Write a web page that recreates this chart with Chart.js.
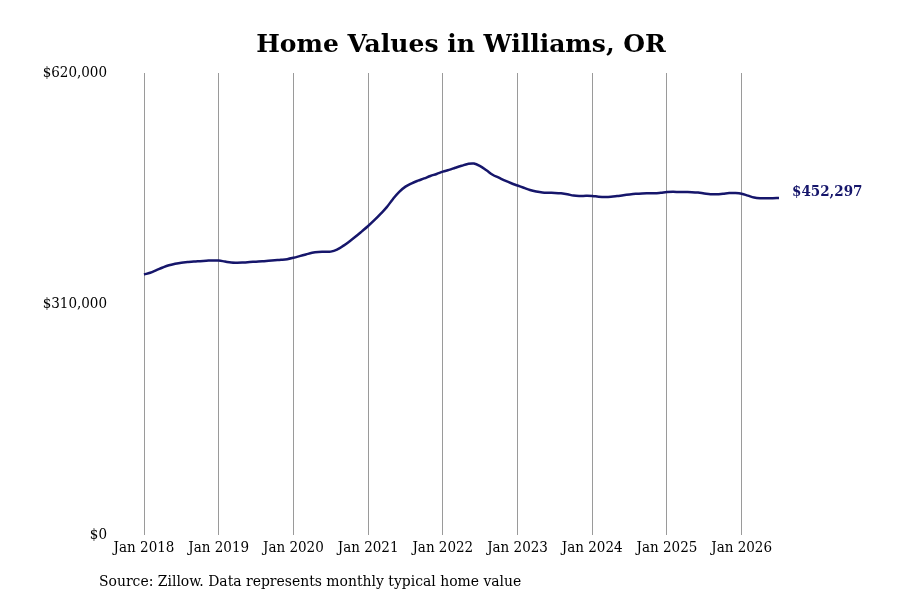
<!DOCTYPE html>
<html>
<head>
<meta charset="utf-8">
<script src="https://cdn.jsdelivr.net/npm/chart.js@4.4.1/dist/chart.umd.min.js"></script>
<style>
  html, body { margin: 0; padding: 0; background: #fff; }
  #wrap { width: 900px; height: 600px; position: relative; }
</style>
</head>
<body>
<div id="wrap"><canvas id="chart" width="900" height="600"></canvas></div>
<script>
// Home value data (monthly, Jan 2018 - Jul 2026)
const chartTitle = 'Home Values in Williams, OR';
const sourceNote = 'Source: Zillow. Data represents monthly typical home value';
const monthNames = ['Jan', 'Feb', 'Mar', 'Apr', 'May', 'Jun', 'Jul', 'Aug', 'Sep', 'Oct', 'Nov', 'Dec'];
const startYear = 2018;
const yTicks = [0, 310000, 620000];

const homeValues = [
    349500, 352000, 355500, 359000, 362000, 364000, 365500, 366300, 367000, 367500, 368000, 368500,
    368300, 367000, 365700, 365500, 365800, 366300, 366800, 367300, 368000, 368700, 369300, 370200,
    372000, 374200, 376500, 378700, 379800, 380000, 380300, 383000, 388000, 394000, 400500, 407500,
    414700, 422500, 431000, 440000, 451000, 460500, 467500, 472000, 475500, 478500, 481800, 484500,
    487600, 490000, 492800, 495500, 498000, 498500, 495000, 489500, 483500, 479500, 475500, 472000,
    469000, 466000, 463000, 461000, 459700, 459300, 459100, 458500, 457300, 455500, 455000, 455200,
    455000, 454000, 453500, 453800, 454800, 456000, 457000, 457800, 458300, 458500, 458600, 459300,
    460200, 460500, 460200, 460200, 460100, 459500, 458300, 457300, 457300, 458000, 458800, 458900,
    458000, 455500, 453000, 452000, 451900, 452000, 452297
];

const labels = homeValues.map((v, i) => monthNames[i % 12] + ' ' + (startYear + Math.floor(i / 12)));

const lineColor = '#16166b';
const serif = "'DejaVu Serif Condensed', 'DejaVu Serif', serif";

function formatCurrency(amount) {
    return '$' + Math.round(amount).toLocaleString('en-US');
}

// Title, source line and last-value label
const extraText = {
    id: 'extraText',
    afterDraw(chart) {
        const ctx = chart.ctx;
        ctx.save();
        ctx.fillStyle = '#000';
        ctx.font = "bold 25px 'DejaVu Serif', serif";
        ctx.textAlign = 'center';
        ctx.textBaseline = 'middle';
        ctx.fillText(chartTitle, 461, 45);

        ctx.font = '15.5px ' + serif;
        ctx.textAlign = 'left';
        ctx.fillText(sourceNote, 99, 582);

        const meta = chart.getDatasetMeta(0);
        const last = meta.data[meta.data.length - 1];
        ctx.fillStyle = lineColor;
        ctx.font = 'bold 15px ' + serif;
        ctx.fillText(formatCurrency(homeValues[homeValues.length - 1]), last.x + 13, last.y - 6);
        ctx.restore();
    }
};

new Chart(document.getElementById('chart'), {
    type: 'line',
    data: {
        labels: labels,
        datasets: [{
            data: homeValues,
            borderColor: lineColor,
            borderWidth: 2.5,
            pointRadius: 0,
            tension: 0.4,
            fill: false
        }]
    },
    options: {
        responsive: false,
        animation: false,
        layout: { padding: { left: 0, right: 121, top: 73, bottom: 0 } },
        plugins: {
            legend: { display: false },
            title: { display: false },
            tooltip: { enabled: false }
        },
        scales: {
            x: {
                type: 'category',
                offset: false,
                border: { display: false },
                grid: {
                    drawTicks: false,
                    lineWidth: 1,
                    color: (c) => (c.index % 12 === 0 ? '#9a9a9a' : 'rgba(0,0,0,0)')
                },
                ticks: {
                    autoSkip: false,
                    maxRotation: 0,
                    padding: 4,
                    color: '#000',
                    font: { family: serif, size: 15 },
                    callback: (v, i) => (i % 12 === 0 ? labels[i] : '')
                },
                afterFit: (scale) => { scale.height = 65; }
            },
            y: {
                min: 0,
                max: 620000,
                border: { display: false },
                grid: { display: false, drawTicks: false },
                afterBuildTicks: (scale) => { scale.ticks = yTicks.map(v => ({ value: v })); },
                ticks: {
                    padding: 37,
                    color: '#000',
                    font: { family: serif, size: 15 },
                    callback: (v) => formatCurrency(v)
                },
                afterFit: (scale) => { scale.width = 144; }
            }
        }
    },
    plugins: [extraText]
});
</script>
</body>
</html>
